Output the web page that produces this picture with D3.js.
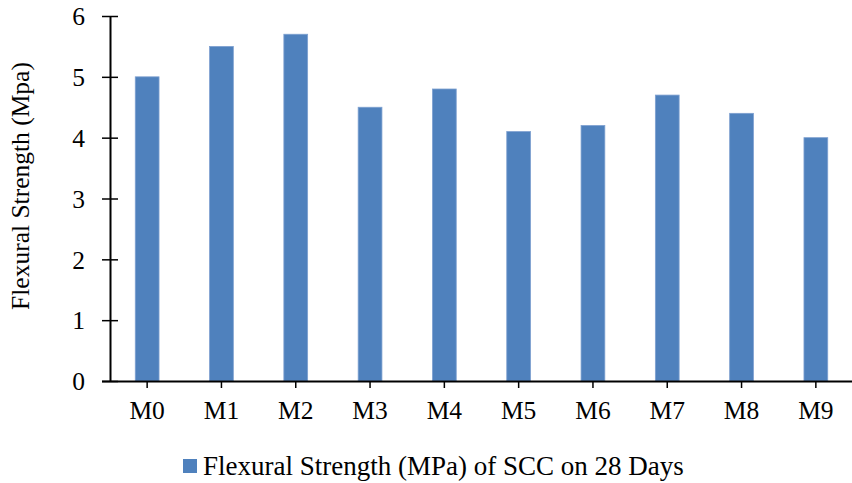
<!DOCTYPE html>
<html>
<head>
<meta charset="utf-8">
<script src="https://cdn.jsdelivr.net/npm/d3@7"></script>
<style>
  body { margin: 0; background: #fff; }
  text { font-family: "Liberation Serif", "Times New Roman", serif; fill: #000; }
</style>
</head>
<body>
<script>
var categories = ['M0', 'M1', 'M2', 'M3', 'M4', 'M5', 'M6', 'M7', 'M8', 'M9'];
var values = [5.0, 5.5, 5.7, 4.5, 4.8, 4.1, 4.2, 4.7, 4.4, 4.0];
var yTicks = [0, 1, 2, 3, 4, 5, 6];
var seriesName = 'Flexural Strength (MPa) of SCC on 28 Days';
var yTitle = 'Flexural Strength (Mpa)';

var W = 852, H = 483;
var margin = { top: 16, right: 0, bottom: 102, left: 110 };
var width = W - margin.left - margin.right;
var height = H - margin.top - margin.bottom;
var fs = 25.5;

var svg = d3.select('body').append('svg')
  .attr('width', W)
  .attr('height', H);

var g = svg.append('g')
  .attr('transform', `translate(${margin.left}, ${margin.top})`);

var xScale = d3.scaleBand().domain(categories).range([0, 743])
  .paddingInner(0.68).paddingOuter(0.34);
var yScale = d3.scaleLinear().domain([0, 6]).range([height, 0]);

// bars
g.selectAll('.bar')
  .data(values)
  .enter().append('rect')
  .attr('class', 'bar')
  .attr('x', function(d, i) { return xScale(categories[i]); })
  .attr('y', function(d) { return yScale(d); })
  .attr('width', xScale.bandwidth())
  .attr('height', function(d) { return height - yScale(d); })
  .attr('fill', '#4f81bd')
  .attr('stroke', '#7ea0d0')
  .attr('stroke-width', 0.8);

// y axis
var yAxis = g.append('g')
  .call(d3.axisLeft(yScale).tickValues(yTicks).tickSize(8).tickPadding(17).tickFormat(d3.format('d')));
yAxis.select('.domain').attr('d', `M0.5,${height}V0`).attr('stroke', '#000').attr('stroke-width', 2);
yAxis.selectAll('.tick line').attr('x1', -8).attr('x2', 8).attr('stroke', '#000').attr('stroke-width', 1.5);
yAxis.selectAll('.tick text').attr('font-size', fs).attr('dy', '0.34em')
  .attr('font-family', '"Liberation Serif", serif');

// x axis
var xAxis = g.append('g')
  .attr('transform', `translate(0, ${height})`)
  .call(d3.axisBottom(xScale).tickSize(7).tickPadding(13));
xAxis.select('.domain').attr('d', `M-8,0.5H${width}`).attr('stroke', '#000').attr('stroke-width', 2);
xAxis.selectAll('.tick line').attr('stroke', '#000').attr('stroke-width', 1.5);
xAxis.selectAll('.tick text').attr('font-size', fs)
  .attr('font-family', '"Liberation Serif", serif');

// y title
svg.append('text')
  .attr('transform', `translate(29, 186) rotate(-90)`)
  .attr('text-anchor', 'middle')
  .attr('font-size', fs)
  .text(yTitle);

// legend
var legend = svg.append('g').attr('transform', 'translate(183, 466)');
legend.append('rect')
  .attr('x', 0).attr('y', -7)
  .attr('width', 14).attr('height', 14)
  .attr('fill', '#4f81bd');
legend.append('text')
  .attr('x', 20).attr('y', 0)
  .attr('dy', '0.35em')
  .attr('font-size', 27)
  .text(seriesName);
</script>
</body>
</html>
